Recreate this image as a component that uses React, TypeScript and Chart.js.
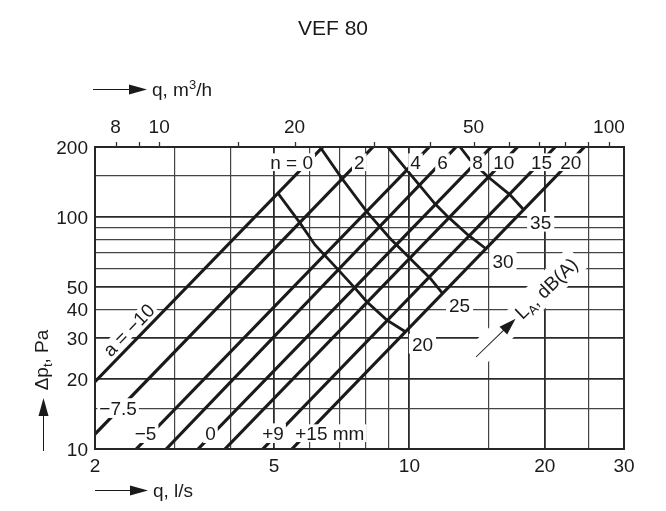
import React, { useEffect, useRef } from "react";
import { Chart, registerables } from "chart.js";

Chart.register(...registerables);

const TITLE = "VEF 80";

// Grid / tick values
const xGridValues = [2, 3, 4, 5, 6, 7, 8, 9, 10, 15, 20, 25, 30];
const xMajorGrid = [5, 10, 20];
const yGridValues = [10, 15, 20, 30, 40, 50, 60, 70, 80, 90, 100, 150, 200];
const yMajorGrid = [20, 30, 50, 100];
const xTickLabels = [2, 5, 10, 20, 30];
const yTickLabels = [10, 20, 30, 40, 50, 100, 200];
const topTickValues = [8, 9, 10, 15, 20, 30, 40, 50, 60, 70, 80, 90, 100];
const topTickLabels = [8, 10, 20, 50, 100];
const M3H_PER_LS = 3.6;

// Pressure-drop lines for each damper setting
const settingN = ["n = 0", "2", "4", "6", "8", "10", "15", "20"];
const settingA = ["a = −10", "−7.5", "−5", "", "0", "", "+9", "+15 mm"];
const lineStartQ = [2, 2, 2.47, 2.88, 3.39, 3.89, 4.72, 5.48];
const lineStartDp = [19.5, 11.6, 10, 10, 10, 10, 10, 10];
const lineEndQ = [6.42, 8.3, 11.07, 12.7, 15.2, 17.4, 21.1, 24.5];
const lineEndDp = [200, 200, 200, 200, 200, 200, 200, 200];

// Sound level curves L_A, dB(A)
const noiseLevels = ["20", "25", "30", "35"];
const noise20Q = [5.1, 5.71, 6.17, 6.95, 7.57, 8.04, 8.9, 9.8];
const noise20Dp = [126.6, 94.2, 75.7, 59.1, 49.3, 43.1, 36.0, 32.0];
const noise25Q = [6.33, 7.07, 8.04, 9.05, 10.38, 11.11, 11.85];
const noise25Dp = [200, 146.9, 105.4, 80.9, 62.1, 54.6, 46.8];
const noise30Q = [8.96, 9.78, 10.56, 11.4, 12.19, 13.5, 14.8];
const noise30Dp = [200, 162.6, 136, 113.8, 100, 83.6, 72.9];
const noise35Q = [12.96, 13.64, 14.95, 16.74, 17.95];
const noise35Dp = [200, 176.1, 148.8, 124.4, 107.3];

const noiseQ = [noise20Q, noise25Q, noise30Q, noise35Q];
const noiseDp = [noise20Dp, noise25Dp, noise30Dp, noise35Dp];

// Layout constants
const FONT = "'Liberation Sans', Arial, Helvetica, sans-serif";
const INK = "#1a1a1a";
const TICK_SIZE = 19;
const LABEL_SIZE = 19;
const aLabelDx = [0, -2, -6, 0, -3, 0, -5, -12];

const W = 666;
const H = 511;

function qOnLine(i: number, dp: number) {
  const l0 = Math.log10(lineStartDp[i]);
  const l1 = Math.log10(lineEndDp[i]);
  const t = (Math.log10(dp) - l0) / (l1 - l0);
  const a = Math.log10(lineStartQ[i]);
  const b = Math.log10(lineEndQ[i]);
  return Math.pow(10, a + t * (b - a));
}

function setFont(ctx: CanvasRenderingContext2D, size: number) {
  ctx.font = `${size}px ${FONT}`;
}

type Seg = { t: string; size: number; dy: number };

function richWidth(ctx: CanvasRenderingContext2D, segs: Seg[]) {
  let w = 0;
  for (const s of segs) {
    setFont(ctx, s.size);
    w += ctx.measureText(s.t).width;
  }
  return w;
}

function drawRich(ctx: CanvasRenderingContext2D, segs: Seg[], x: number, y: number) {
  let cx = x;
  ctx.textAlign = "left";
  ctx.textBaseline = "alphabetic";
  for (const s of segs) {
    setFont(ctx, s.size);
    ctx.fillText(s.t, cx, y + s.dy);
    cx += ctx.measureText(s.t).width;
  }
}

function boxedText(
  ctx: CanvasRenderingContext2D,
  text: string,
  x: number,
  y: number,
  size: number,
  align: "left" | "center" | "right",
  box: boolean,
  padX = 2,
  padY = 2
) {
  setFont(ctx, size);
  const w = ctx.measureText(text).width;
  const left = align === "center" ? x - w / 2 : align === "right" ? x - w : x;
  const h = size * 0.72;
  if (box) {
    ctx.fillStyle = "#fff";
    ctx.fillRect(left - padX, y - h / 2 - padY, w + 2 * padX, h + 2 * padY);
  }
  ctx.fillStyle = INK;
  ctx.textAlign = "left";
  ctx.textBaseline = "alphabetic";
  ctx.fillText(text, left, y + h / 2);
}

function arrowHead(ctx: CanvasRenderingContext2D, tipX: number, tipY: number, ang: number, len: number, half: number) {
  const bx = tipX - Math.cos(ang) * len;
  const by = tipY - Math.sin(ang) * len;
  const nx = -Math.sin(ang) * half;
  const ny = Math.cos(ang) * half;
  ctx.beginPath();
  ctx.moveTo(tipX, tipY);
  ctx.lineTo(bx + nx, by + ny);
  ctx.lineTo(bx - nx, by - ny);
  ctx.closePath();
  ctx.fill();
}

const decor = {
  id: "decor",
  beforeDraw(chart: any) {
    const ctx = chart.ctx as CanvasRenderingContext2D;
    ctx.save();
    ctx.fillStyle = "#fff";
    ctx.fillRect(0, 0, chart.width, chart.height);
    ctx.restore();
  },
  afterDatasetsDraw(chart: any) {
    const ctx = chart.ctx as CanvasRenderingContext2D;
    const xs = chart.scales.x;
    const ys = chart.scales.y;
    const area = chart.chartArea;
    const px = (q: number) => xs.getPixelForValue(q);
    const py = (p: number) => ys.getPixelForValue(p);
    ctx.save();

    // plot frame
    ctx.strokeStyle = "#262626";
    ctx.lineWidth = 2;
    ctx.strokeRect(area.left, area.top, area.right - area.left, area.bottom - area.top);

    // top ticks (m3/h)
    ctx.lineWidth = 1.3;
    ctx.strokeStyle = "#333";
    for (const v of topTickValues) {
      const x = Math.round(px(v / M3H_PER_LS)) + 0.5;
      ctx.beginPath();
      ctx.moveTo(x, area.top);
      ctx.lineTo(x, area.top - 5);
      ctx.stroke();
    }
    ctx.fillStyle = INK;
    for (const v of topTickLabels) {
      boxedText(ctx, String(v), px(v / M3H_PER_LS), area.top - 21, TICK_SIZE, "center", false);
    }
    for (const v of xTickLabels) {
      boxedText(ctx, String(v), px(v), area.bottom + 16, TICK_SIZE, "center", false);
    }
    for (const v of yTickLabels) {
      boxedText(ctx, String(v), area.left - 7, py(v), TICK_SIZE, "right", false);
    }

    // top setting labels (n)
    const topDp = 172;
    settingN.forEach((t, i) => {
      const x = px(qOnLine(i, topDp));
      const y = py(topDp);
      if (i === 0) boxedText(ctx, t, x + 5, y, LABEL_SIZE, "right", true, 2, 2);
      else boxedText(ctx, t, x + 1, y, LABEL_SIZE, "center", true, 2, 2);
    });

    // bottom setting labels (a)
    settingA.forEach((t, i) => {
      if (!t) return;
      if (i === 0) {
        const p0x = px(lineStartQ[0]);
        const p0y = py(lineStartDp[0]);
        const p1x = px(lineEndQ[0]);
        const p1y = py(lineEndDp[0]);
        const ang = Math.atan2(p1y - p0y, p1x - p0x);
        const ax = px(qOnLine(0, 30));
        const ay = py(30);
        ctx.save();
        ctx.translate(ax, ay);
        ctx.rotate(ang);
        boxedText(ctx, t, 0, -12, LABEL_SIZE, "center", true, 2, 1);
        ctx.restore();
        return;
      }
      const dp = i === 1 ? 15 : 11.7;
      const x = px(qOnLine(i, dp)) + aLabelDx[i];
      const y = py(dp);
      if (i === 7) boxedText(ctx, t, x, y, LABEL_SIZE, "left", true, 2, 2);
      else boxedText(ctx, t, x, y, LABEL_SIZE, "center", true, 2, 3);
    });

    // noise level labels
    noiseLevels.forEach((t, k) => {
      const qs = noiseQ[k];
      const ds = noiseDp[k];
      const x = px(qs[qs.length - 1]) + 17;
      const y = py(ds[ds.length - 1]) + 12;
      boxedText(ctx, t, x, y, LABEL_SIZE, "center", true, 3, 3);
    });

    // L_A, dB(A) label with arrow
    {
      const tailX = area.left + 381;
      const tailY = area.top + 210;
      const ang = (-44 * Math.PI) / 180;
      const segs: Seg[] = [
        { t: "L", size: LABEL_SIZE, dy: 0 },
        { t: "A", size: 13, dy: 4 },
        { t: ", dB(A)", size: LABEL_SIZE, dy: 0 },
      ];
      const tw = richWidth(ctx, segs);
      ctx.save();
      ctx.translate(tailX, tailY);
      ctx.rotate(ang);
      ctx.fillStyle = "#fff";
      ctx.fillRect(-6, -12, 62, 24);
      ctx.fillRect(56, -15, tw + 8, 28);
      ctx.strokeStyle = INK;
      ctx.fillStyle = INK;
      ctx.lineWidth = 1;
      ctx.beginPath();
      ctx.moveTo(0, 0);
      ctx.lineTo(40, 0);
      ctx.stroke();
      arrowHead(ctx, 55, 0, 0, 17, 5.5);
      drawRich(ctx, segs, 59, 6);
      ctx.restore();
    }

    // title
    ctx.fillStyle = INK;
    setFont(ctx, 21);
    ctx.textAlign = "center";
    ctx.textBaseline = "alphabetic";
    ctx.fillText(TITLE, W / 2, 35);

    // top axis title with arrow
    ctx.strokeStyle = INK;
    ctx.lineWidth = 1;
    ctx.beginPath();
    ctx.moveTo(area.left - 2, 89.5);
    ctx.lineTo(area.left + 36, 89.5);
    ctx.stroke();
    arrowHead(ctx, area.left + 52, 89.5, 0, 18, 5);
    drawRich(
      ctx,
      [
        { t: "q, m", size: TICK_SIZE, dy: 0 },
        { t: "3", size: 13, dy: -7 },
        { t: "/h", size: TICK_SIZE, dy: 0 },
      ],
      area.left + 57,
      96
    );

    // bottom axis title with arrow
    ctx.beginPath();
    ctx.moveTo(area.left, 490.5);
    ctx.lineTo(area.left + 36, 490.5);
    ctx.stroke();
    arrowHead(ctx, area.left + 53, 490.5, 0, 18, 5);
    drawRich(ctx, [{ t: "q, l/s", size: TICK_SIZE, dy: 0 }], area.left + 58, 497);

    // left axis title with arrow
    ctx.beginPath();
    ctx.moveTo(43.5, 451);
    ctx.lineTo(43.5, 414);
    ctx.stroke();
    arrowHead(ctx, 43.5, 398, -Math.PI / 2, 18, 5);
    {
      const segs: Seg[] = [
        { t: "Δp", size: TICK_SIZE, dy: 0 },
        { t: "t", size: 13, dy: 4 },
        { t: ", Pa", size: TICK_SIZE, dy: 0 },
      ];
      const tw = richWidth(ctx, segs);
      ctx.save();
      ctx.translate(48, 360);
      ctx.rotate(-Math.PI / 2);
      drawRich(ctx, segs, -tw / 2, 0);
      ctx.restore();
    }

    ctx.restore();
  },
};

export default function App() {
  const ref = useRef<HTMLCanvasElement>(null);

  useEffect(() => {
    const canvas = ref.current;
    if (!canvas) return;

    const datasets: any[] = [];
    for (let i = 0; i < settingN.length; i++) {
      datasets.push({
        label: settingN[i],
        data: [
          { x: lineStartQ[i], y: lineStartDp[i] },
          { x: lineEndQ[i], y: lineEndDp[i] },
        ],
        borderColor: INK,
        borderWidth: 3.2,
        pointRadius: 0,
        showLine: true,
        fill: false,
        tension: 0,
      });
    }
    for (let k = 0; k < noiseLevels.length; k++) {
      datasets.push({
        label: "L " + noiseLevels[k],
        data: noiseQ[k].map((q, j) => ({ x: q, y: noiseDp[k][j] })),
        borderColor: INK,
        borderWidth: 2.8,
        pointRadius: 0,
        showLine: true,
        fill: false,
        tension: 0,
      });
    }

    const gridStyle = (major: number[], edges: number[]) => ({
      drawTicks: false,
      color: (c: any) => (major.includes(c.tick?.value) || edges.includes(c.tick?.value) ? "#2a2a2a" : "#444"),
      lineWidth: (c: any) => (edges.includes(c.tick?.value) ? 2 : major.includes(c.tick?.value) ? 1.8 : 1.2),
    });

    const chart = new Chart(canvas, {
      type: "line",
      data: { datasets },
      options: {
        responsive: false,
        animation: false,
        events: [],
        layout: { padding: { left: 95, top: 147, right: W - 624, bottom: H - 449 } },
        plugins: { legend: { display: false }, tooltip: { enabled: false }, title: { display: false } },
        scales: {
          x: {
            type: "logarithmic",
            min: 2,
            max: 30,
            afterBuildTicks: (s: any) => {
              s.ticks = xGridValues.map((v) => ({ value: v }));
            },
            ticks: { display: false },
            grid: gridStyle(xMajorGrid, [2, 30]),
            border: { display: false },
          },
          y: {
            type: "logarithmic",
            min: 10,
            max: 200,
            afterBuildTicks: (s: any) => {
              s.ticks = yGridValues.map((v) => ({ value: v }));
            },
            ticks: { display: false },
            grid: gridStyle(yMajorGrid, [10, 200]),
            border: { display: false },
          },
        },
      } as any,
      plugins: [decor],
    });

    return () => chart.destroy();
  }, []);

  return (
    <div style={{ position: "absolute", left: 0, top: 0, width: W, height: H, background: "#fff" }}>
      <canvas ref={ref} width={W} height={H} style={{ display: "block", width: W, height: H }} />
    </div>
  );
}
